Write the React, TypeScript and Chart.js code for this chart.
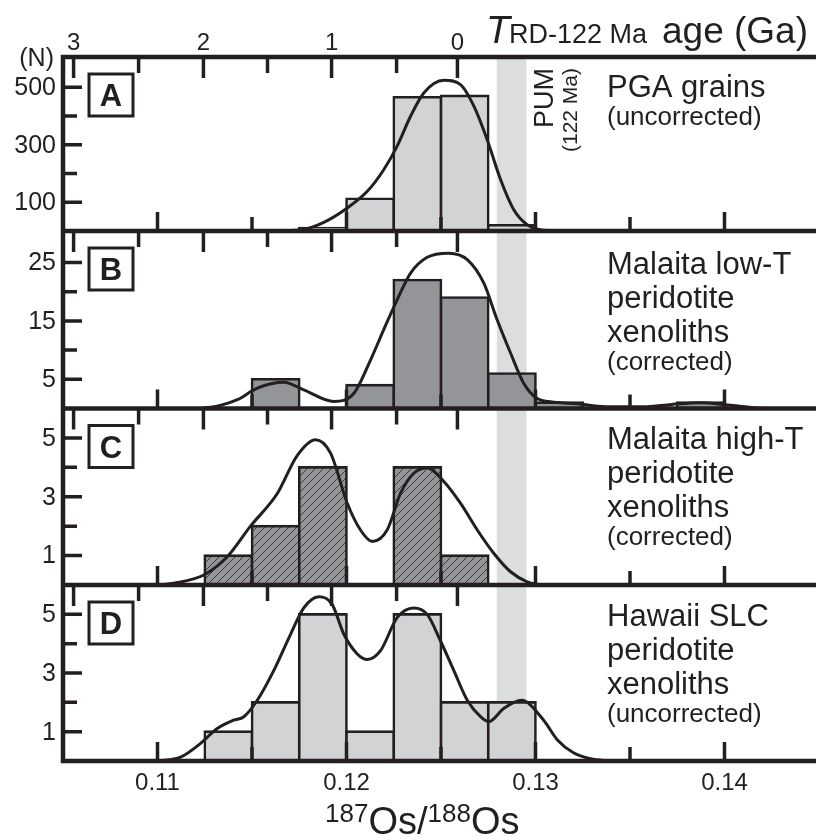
import React, { useEffect, useRef } from 'react';
import { Chart, registerables } from 'chart.js';

Chart.register(...registerables);

// ---------- axes ----------
const X_MIN = 0.105;
const X_MAX = 0.145;
const xMajorTicks = [0.11, 0.12, 0.13, 0.14];
const xMajorLabels = ['0.11', '0.12', '0.13', '0.14'];
const xMinorTicks = [0.115, 0.125, 0.135];
// top axis: T_RD-122 Ma age (Ga), tick positions expressed in 187Os/188Os
const ageTickRatios = [0.10556, 0.109, 0.11243, 0.11582, 0.11921, 0.12265, 0.12587];
const ageTickLabels = ['3', '', '2', '', '1', '', '0'];
const pumBand = [0.12795, 0.12952];

// ---------- Panel A : PGA grains ----------
const binsA = [0.11875, 0.12125, 0.12375, 0.12625, 0.12875];
const countsA = [10, 112, 465, 470, 20];
const curveAx = [0.1158, 0.1176, 0.1188, 0.12004, 0.1211, 0.12197, 0.12268, 0.12339, 0.12409, 0.12515, 0.12603, 0.12674, 0.12744, 0.12815, 0.12885, 0.12956, 0.13042, 0.1324];
const curveAy = [0, 4, 30, 80, 138, 213, 295, 399, 480, 524, 509, 434, 318, 179, 74, 22, 3, 0];
const yMajorA = [100, 300, 500];
const yMinorA = [200, 400];

// ---------- Panel B : Malaita low-T ----------
const binsB = [0.11625, 0.12125, 0.12375, 0.12625, 0.12875, 0.13125, 0.13875];
const countsB = [5, 4, 22, 19, 6, 1, 1];
const curveBx = [0.11228, 0.11316, 0.11422, 0.11528, 0.11668, 0.11774, 0.11933, 0.12039, 0.12127, 0.12197, 0.12268, 0.12339, 0.12427, 0.12541, 0.12639, 0.12726, 0.12797, 0.12868, 0.12938, 0.13009, 0.1307, 0.1322, 0.1337, 0.1357, 0.1372, 0.1387, 0.1402, 0.1417, 0.143];
const curveBy = [0, 0.4, 1.5, 3.5, 4.5, 3.2, 1.2, 2.6, 8.3, 13.5, 18.6, 23.2, 25.9, 26.6, 25.5, 21.5, 15.2, 9.5, 4.3, 1.7, 1.2, 0.8, 0.3, 0.3, 0.7, 1.0, 0.6, 0.1, 0];
const yMajorB = [5, 15, 25];
const yMinorB = [10, 20];

// ---------- Panel C : Malaita high-T ----------
const binsC = [0.11375, 0.11625, 0.11875, 0.12375, 0.12625];
const countsC = [1, 2, 4, 4, 1];
const curveCx = [0.1101, 0.11086, 0.11245, 0.11369, 0.11492, 0.11633, 0.11739, 0.11836, 0.11915, 0.12004, 0.12074, 0.12136, 0.12215, 0.12286, 0.12356, 0.12427, 0.12515, 0.12603, 0.12692, 0.12779, 0.12868, 0.12956, 0.1303];
const curveCy = [0, 0.06, 0.34, 0.96, 2.0, 3.1, 4.4, 4.94, 4.49, 2.78, 1.87, 1.48, 1.87, 3.12, 3.8, 3.98, 3.52, 2.78, 1.87, 1.08, 0.45, 0.11, 0];
const yMajorC = [1, 3, 5];
const yMinorC = [2, 4];

// ---------- Panel D : Hawaii SLC ----------
const binsD = [0.11375, 0.11625, 0.11875, 0.12125, 0.12375, 0.12625, 0.12875];
const countsD = [1, 2, 5, 1, 5, 2, 2];
const curveDx = [0.10998, 0.11122, 0.11228, 0.11316, 0.11402, 0.11457, 0.11528, 0.11615, 0.11704, 0.11774, 0.11853, 0.11924, 0.11986, 0.12057, 0.1211, 0.1218, 0.12268, 0.12356, 0.12427, 0.12497, 0.12568, 0.12639, 0.12709, 0.12753, 0.12832, 0.12926, 0.13042, 0.13116, 0.13201, 0.13291, 0.134];
const curveDy = [0, 0.13, 0.6, 1.11, 1.39, 1.51, 2.07, 3.08, 4.32, 5.22, 5.6, 5.34, 4.32, 3.65, 3.46, 3.76, 4.89, 5.22, 5.0, 4.1, 3.08, 2.07, 1.51, 1.34, 1.79, 2.07, 1.4, 0.72, 0.28, 0.08, 0];
const yMajorD = [1, 3, 5];
const yMinorD = [2, 4];

const INK = '#231f20';
const LIGHT = '#d1d3d4';
const DARK = '#939598';
const BAND = '#dcddde';
const FONT = '"Liberation Sans", Arial, Helvetica, sans-serif';

const panels = [
  { id: 'yA', letter: 'A', bins: binsA, counts: countsA, cx: curveAx, cy: curveAy, max: 605, weight: 174, major: yMajorA, minor: yMinorA, fill: LIGHT, hatch: false, lines: ['PGA grains'], paren: '(uncorrected)', textTop: 40 },
  { id: 'yB', letter: 'B', bins: binsB, counts: countsB, cx: curveBx, cy: curveBy, max: 30.4, weight: 177.5, major: yMajorB, minor: yMinorB, fill: DARK, hatch: false, lines: ['Malaita low-T', 'peridotite', 'xenoliths'], paren: '(corrected)', textTop: 43 },
  { id: 'yC', letter: 'C', bins: binsC, counts: countsC, cx: curveCx, cy: curveCy, max: 6, weight: 176.5, major: yMajorC, minor: yMinorC, fill: DARK, hatch: true, lines: ['Malaita high-T', 'peridotite', 'xenoliths'], paren: '(corrected)', textTop: 40 },
  { id: 'yD', letter: 'D', bins: binsD, counts: countsD, cx: curveDx, cy: curveDy, max: 6, weight: 176, major: yMajorD, minor: yMinorD, fill: LIGHT, hatch: false, lines: ['Hawaii SLC', 'peridotite', 'xenoliths'], paren: '(uncorrected)', textTop: 41 },
];

function makeHatch(ctx: CanvasRenderingContext2D): CanvasPattern | string {
  const p = document.createElement('canvas');
  p.width = 8;
  p.height = 8;
  const c = p.getContext('2d');
  if (!c) return DARK;
  c.fillStyle = DARK;
  c.fillRect(0, 0, 8, 8);
  c.strokeStyle = '#3a3a3c';
  c.lineWidth = 1;
  c.beginPath();
  c.moveTo(-1, 9); c.lineTo(9, -1);
  c.moveTo(-3, 3); c.lineTo(3, -3);
  c.moveTo(5, 11); c.lineTo(11, 5);
  c.stroke();
  return ctx.createPattern(p, 'repeat') || DARK;
}

const overlayPlugin = {
  id: 'overlay',
  beforeDraw(chart: any) {
    const ctx = chart.ctx;
    ctx.save();
    ctx.fillStyle = '#ffffff';
    ctx.fillRect(0, 0, chart.width, chart.height);
    ctx.restore();
  },
  beforeDatasetsDraw(chart: any) {
    const ctx = chart.ctx;
    const x = chart.scales.x;
    const a = chart.chartArea;
    ctx.save();
    ctx.fillStyle = BAND;
    const x0 = x.getPixelForValue(pumBand[0]);
    const x1 = x.getPixelForValue(pumBand[1]);
    ctx.fillRect(x0, a.top, x1 - x0, a.bottom - a.top);
    ctx.restore();
  },
  afterDatasetsDraw(chart: any) {
    const ctx = chart.ctx;
    const xs = chart.scales.x;
    const a = chart.chartArea;
    const left = a.left;
    const right = chart.width;
    ctx.save();
    ctx.strokeStyle = INK;
    ctx.fillStyle = INK;
    ctx.lineCap = 'butt';

    // ticks per panel
    panels.forEach((p) => {
      const ys = chart.scales[p.id];
      const top = ys.top;
      const bottom = ys.bottom;
      ctx.lineWidth = 3.5;
      ctx.beginPath();
      p.major.forEach((v: number) => {
        const y = ys.getPixelForValue(v);
        ctx.moveTo(left, y); ctx.lineTo(left + 19, y);
      });
      p.minor.forEach((v: number) => {
        const y = ys.getPixelForValue(v);
        ctx.moveTo(left, y); ctx.lineTo(left + 14, y);
      });
      xMajorTicks.forEach((v) => {
        const x = xs.getPixelForValue(v);
        ctx.moveTo(x, bottom); ctx.lineTo(x, bottom - 19);
      });
      xMinorTicks.forEach((v) => {
        const x = xs.getPixelForValue(v);
        ctx.moveTo(x, bottom); ctx.lineTo(x, bottom - 14);
      });
      ageTickRatios.forEach((v, i) => {
        const x = xs.getPixelForValue(v);
        const len = ageTickLabels[i] ? 21 : 16;
        ctx.moveTo(x, top); ctx.lineTo(x, top + len);
      });
      ctx.stroke();
    });

    // spines
    ctx.lineWidth = 4.5;
    ctx.beginPath();
    ctx.moveTo(left - 2.25, a.top); ctx.lineTo(right, a.top);
    ctx.moveTo(left, a.top - 2.25); ctx.lineTo(left, a.bottom + 2.25);
    panels.forEach((p) => {
      const ys = chart.scales[p.id];
      ctx.moveTo(left - 2.25, ys.bottom); ctx.lineTo(right, ys.bottom);
    });
    ctx.stroke();

    // panel letters and descriptions
    panels.forEach((p) => {
      const ys = chart.scales[p.id];
      const top = ys.top;
      ctx.lineWidth = 3;
      ctx.fillStyle = '#ffffff';
      ctx.fillRect(89, top + 17, 44, 42);
      ctx.strokeRect(89, top + 17, 44, 42);
      ctx.fillStyle = INK;
      ctx.font = `bold 31px ${FONT}`;
      ctx.textAlign = 'center';
      ctx.textBaseline = 'alphabetic';
      ctx.fillText(p.letter, 111, top + 49);

      ctx.textAlign = 'left';
      ctx.font = `31px ${FONT}`;
      p.lines.forEach((s: string, i: number) => {
        ctx.fillText(s, 607, top + p.textTop + i * 34);
      });
      ctx.font = `26px ${FONT}`;
      ctx.fillText(p.paren, 607, top + p.textTop + (p.lines.length - 1) * 34 + 28);

      // y tick labels
      ctx.font = `25px ${FONT}`;
      ctx.textAlign = 'right';
      ctx.textBaseline = 'middle';
      p.major.forEach((v: number) => {
        ctx.fillText(String(v), 56, ys.getPixelForValue(v) + 1);
      });
      ctx.textBaseline = 'alphabetic';
    });

    // PUM label (rotated)
    ctx.save();
    ctx.translate(553, 68);
    ctx.rotate(-Math.PI / 2);
    ctx.textAlign = 'right';
    ctx.font = `27px ${FONT}`;
    ctx.fillText('PUM', 0, 0);
    ctx.restore();
    ctx.save();
    ctx.translate(577, 68);
    ctx.rotate(-Math.PI / 2);
    ctx.textAlign = 'right';
    ctx.font = `21px ${FONT}`;
    ctx.fillText('(122 Ma)', 0, 0);
    ctx.restore();

    // top axis labels
    ctx.font = `24px ${FONT}`;
    ctx.textAlign = 'center';
    ageTickRatios.forEach((v, i) => {
      if (ageTickLabels[i]) ctx.fillText(ageTickLabels[i], xs.getPixelForValue(v), 50);
    });
    ctx.textAlign = 'right';
    ctx.font = `25px ${FONT}`;
    ctx.fillText('(N)', 54, 66);

    // top axis title
    ctx.textAlign = 'left';
    ctx.font = `italic 39px ${FONT}`;
    ctx.fillText('T', 486, 43);
    ctx.font = `27px ${FONT}`;
    ctx.fillText('RD-122 Ma', 509, 43);
    ctx.font = `37px ${FONT}`;
    ctx.fillText('age (Ga)', 662, 43);

    // bottom tick labels
    ctx.font = `24px ${FONT}`;
    ctx.textAlign = 'center';
    xMajorTicks.forEach((v, i) => {
      ctx.fillText(xMajorLabels[i], xs.getPixelForValue(v), 790);
    });

    // bottom axis title
    ctx.textAlign = 'left';
    let cx = 325;
    const parts: [string, boolean][] = [['187', true], ['Os/', false], ['188', true], ['Os', false]];
    parts.forEach(([s, sup]) => {
      ctx.font = sup ? `26px ${FONT}` : `38px ${FONT}`;
      ctx.fillText(s, cx, sup ? 822 : 834);
      cx += ctx.measureText(s).width;
    });

    ctx.restore();
  },
};

export default function App() {
  const ref = useRef<HTMLCanvasElement>(null);
  useEffect(() => {
    const canvas = ref.current;
    if (!canvas) return;
    const ctx = canvas.getContext('2d');
    if (!ctx) return;
    const hatch = makeHatch(ctx);

    const datasets: any[] = [];
    panels.forEach((p) => {
      datasets.push({
        type: 'line',
        xAxisID: 'x',
        yAxisID: p.id,
        data: p.cx.map((x: number, i: number) => ({ x, y: p.cy[i] })),
        borderColor: INK,
        borderWidth: 3,
        pointRadius: 0,
        fill: false,
        cubicInterpolationMode: 'monotone',
        order: 1,
      });
      datasets.push({
        type: 'bar',
        xAxisID: 'x',
        yAxisID: p.id,
        data: p.bins.map((x: number, i: number) => ({ x, y: p.counts[i] })),
        backgroundColor: p.hatch ? hatch : p.fill,
        borderColor: INK,
        borderWidth: 2.6,
        inflateAmount: 1.3,
        borderSkipped: 'start',
        grouped: false,
        categoryPercentage: 1,
        barPercentage: 1,
        order: 2,
      });
    });

    const scales: any = {
      x: { type: 'linear', min: X_MIN, max: X_MAX, display: false, offset: false },
    };
    [...panels].reverse().forEach((p, i) => {
      scales[p.id] = {
        type: 'linear',
        position: 'left',
        stack: 'panels',
        stackWeight: p.weight,
        weight: i + 1,
        min: 0,
        max: p.max,
        display: false,
      };
    });

    const chart = new Chart(ctx, {
      type: 'bar',
      data: { datasets },
      options: {
        responsive: false,
        animation: false,
        devicePixelRatio: 1,
        layout: { padding: { left: 63, top: 57, right: 1, bottom: 79 } },
        plugins: { legend: { display: false }, tooltip: { enabled: false } },
        scales,
      } as any,
      plugins: [overlayPlugin],
    });
    return () => chart.destroy();
  }, []);

  return (
    <div style={{ position: 'absolute', left: 0, top: 0, width: 816, height: 840, overflow: 'hidden', background: '#fff' }}>
      <canvas ref={ref} width={820} height={840} style={{ display: 'block', width: 820, height: 840 }} />
    </div>
  );
}
